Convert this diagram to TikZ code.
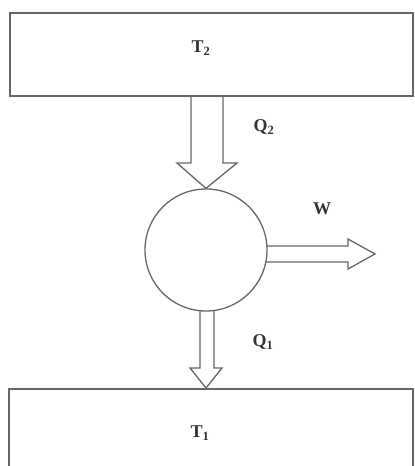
\documentclass[tikz,border=0pt]{standalone}
\usepackage{fontspec}
\setmainfont{Liberation Serif}
\begin{document}
\begin{tikzpicture}[x=1pt,y=-1pt,
  edge/.style={draw=black!60,line width=1.3pt,line join=miter},
  lbl/.style={font=\fontsize{18}{18}\selectfont\bfseries,text=black!80,inner sep=0pt}]
\useasboundingbox (0,0) rectangle (415,466);
\clip (0,0) rectangle (415,466);
% reservoirs
\draw[edge] (10,13) rectangle (413,96);
\draw[edge] (9,389) rectangle (413,480);
\node[lbl] (T2) at (201,48) {T$_{\mathbf 2}$};
\node[lbl] (T1) at (200,433) {T$_{\mathbf 1}$};
% engine
\node[draw=black!60,line width=1.3pt,circle,minimum size=122pt,inner sep=0pt] (eng) at (206,250) {};
% Q2 arrow
\coordinate (q2tip) at (eng.north);
\draw[edge] (191,96) -- (191,163) -- (177,163) -- (q2tip) -- (237,163) -- (223,163) -- (223,96);
\node[lbl] (Q2) at (264,127) {Q$_{\mathbf 2}$};
% W arrow
\coordinate (wtip) at (375,254);
\draw[edge] (266,246) -- (348,246) -- (348,239) -- (wtip) -- (348,269) -- (348,262) -- (266,262);
\node[lbl] (W) at (322,209) {W};
% Q1 arrow
\coordinate (q1tip) at (206,388);
\draw[edge] (200,311) -- (200,368) -- (190,368) -- (q1tip) -- (222,368) -- (214,368) -- (214,311);
\node[lbl] (Q1) at (263,342) {Q$_{\mathbf 1}$};
\end{tikzpicture}
\end{document}
